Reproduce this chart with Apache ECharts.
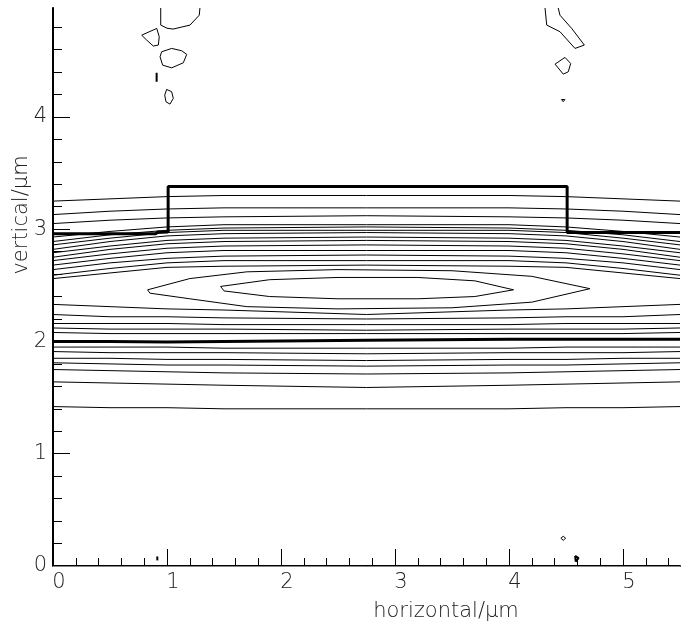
<!DOCTYPE html>
<html>
<head>
<meta charset="utf-8">
<script src="https://cdn.jsdelivr.net/npm/echarts@6/dist/echarts.min.js"></script>
<style>
html, body { margin: 0; padding: 0; background: #fff; }
#main { width: 688px; height: 628px; }
</style>
</head>
<body>
<div id="main"></div>
<script>
// x positions where each horizontal contour is sampled
var xs = [0, 0.5, 1, 1.5, 2.75, 4, 4.5, 5, 5.5];

// contours above the mode centre
var upperLines = [
	[3.25, 3.27, 3.29, 3.30, 3.30, 3.30, 3.29, 3.27, 3.25],
	[3.13, 3.16, 3.18, 3.19, 3.19, 3.19, 3.18, 3.16, 3.13],
	[3.05, 3.08, 3.10, 3.11, 3.12, 3.11, 3.10, 3.08, 3.05],
	[2.93, 2.98, 3.02, 3.04, 3.04, 3.04, 3.02, 2.98, 2.93],
	[2.89, 2.95, 2.99, 3.01, 3.02, 3.01, 2.99, 2.95, 2.89],
	[2.86, 2.92, 2.97, 2.99, 2.99, 2.99, 2.97, 2.92, 2.86],
	[2.82, 2.89, 2.94, 2.96, 2.97, 2.96, 2.94, 2.89, 2.82],
	[2.79, 2.85, 2.90, 2.92, 2.93, 2.92, 2.90, 2.85, 2.79],
	[2.75, 2.82, 2.87, 2.89, 2.90, 2.89, 2.87, 2.82, 2.75],
	[2.72, 2.78, 2.83, 2.85, 2.86, 2.85, 2.83, 2.78, 2.72],
	[2.68, 2.74, 2.79, 2.81, 2.81, 2.81, 2.79, 2.74, 2.68],
	[2.64, 2.70, 2.74, 2.76, 2.77, 2.76, 2.74, 2.70, 2.64],
	[2.59, 2.65, 2.70, 2.72, 2.72, 2.72, 2.70, 2.65, 2.59],
	[2.56, 2.61, 2.66, 2.67, 2.68, 2.67, 2.66, 2.61, 2.56]
];

// contours below the mode centre
var lowerLines = [
	[2.33, 2.31, 2.29, 2.28, 2.24, 2.28, 2.29, 2.31, 2.33],
	[2.24, 2.22, 2.22, 2.21, 2.20, 2.21, 2.22, 2.22, 2.24],
	[2.16, 2.16, 2.16, 2.15, 2.15, 2.15, 2.16, 2.16, 2.16],
	[2.12, 2.11, 2.11, 2.11, 2.10, 2.11, 2.11, 2.11, 2.12],
	[2.08, 2.07, 2.07, 2.07, 2.07, 2.07, 2.07, 2.07, 2.08],
	[1.95, 1.95, 1.95, 1.94, 1.94, 1.94, 1.95, 1.95, 1.95],
	[1.91, 1.90, 1.90, 1.90, 1.89, 1.90, 1.90, 1.90, 1.91],
	[1.85, 1.85, 1.84, 1.84, 1.83, 1.84, 1.84, 1.85, 1.85],
	[1.81, 1.80, 1.79, 1.79, 1.78, 1.79, 1.79, 1.80, 1.81],
	[1.75, 1.74, 1.73, 1.72, 1.71, 1.72, 1.73, 1.74, 1.75],
	[1.64, 1.63, 1.62, 1.61, 1.59, 1.61, 1.62, 1.63, 1.64],
	[1.42, 1.41, 1.41, 1.40, 1.40, 1.40, 1.41, 1.41, 1.42]
];

// substrate interface (thick)
var interfaceLine = [2.00, 2.00, 1.995, 2.00, 2.01, 2.02, 2.02, 2.02, 2.02];

// rib waveguide outline (thick)
var ribOutline = [[0, 2.96], [0.9, 2.96], [0.92, 2.975], [1.01, 2.975], [1.01, 3.38], [4.51, 3.38], [4.51, 2.97], [5.5, 2.97]];

// closed contours round the mode maximum
var outerLoop = [[0.83, 2.46], [1.2, 2.56], [1.7, 2.62], [2.5, 2.64], [3.5, 2.63], [4.2, 2.58], [4.71, 2.47],
	[4.2, 2.35], [3.5, 2.30], [2.5, 2.29], [1.7, 2.31], [1.2, 2.38], [0.85, 2.43], [0.83, 2.46]];
var innerLoop = [[1.47, 2.49], [1.9, 2.55], [2.5, 2.57], [3.2, 2.57], [3.7, 2.54], [4.04, 2.46],
	[3.7, 2.40], [3.2, 2.38], [2.5, 2.38], [1.9, 2.40], [1.5, 2.45], [1.47, 2.49]];

// small noise contours
var islands = [
	[[0.945, 4.97], [0.945, 4.818], [1.00, 4.79], [1.053, 4.782], [1.202, 4.818], [1.283, 4.906], [1.289, 4.97]],
	[[0.778, 4.728], [0.910, 4.788], [0.932, 4.714], [0.924, 4.640], [0.880, 4.631], [0.822, 4.684], [0.778, 4.728]],
	[[0.953, 4.580], [1.041, 4.610], [1.129, 4.589], [1.173, 4.557], [1.143, 4.482], [1.041, 4.437], [0.962, 4.461], [0.939, 4.535], [0.953, 4.580]],
	[[0.997, 4.245], [1.041, 4.224], [1.055, 4.165], [1.026, 4.114], [0.991, 4.135], [0.980, 4.194], [0.997, 4.245]],
	[[4.316, 4.97], [4.331, 4.818], [4.447, 4.759], [4.579, 4.610], [4.661, 4.640], [4.550, 4.788], [4.447, 4.906], [4.432, 4.97]],
	[[4.404, 4.470], [4.491, 4.530], [4.541, 4.476], [4.520, 4.402], [4.476, 4.381], [4.404, 4.470]],
	[[4.46, 4.155], [4.476, 4.165], [4.49, 4.155], [4.476, 4.135], [4.46, 4.155]],
	[[4.455, 0.247], [4.476, 0.265], [4.497, 0.247], [4.476, 0.229], [4.455, 0.247]]
];
var boldSpecks = [
	[[0.909, 4.393], [0.909, 4.313]],
	[[4.58, 0.09], [4.61, 0.07], [4.585, 0.04], [4.58, 0.09]],
	[[0.915, 0.05], [0.915, 0.085]]
];

var xTicks = [0, 1, 2, 3, 4, 5];
var yTicks = [0, 1, 2, 3, 4];

var labelFont = 'DejaVu Sans';
var labelColor = '#222';

function sampled(ys) {
	var pts = [];
	for (var i = 0; i < xs.length; ++i) {
		pts.push([xs[i], ys[i]]);
	}
	return pts;
}

function lineSeries(data, width) {
	return {
		type: 'line',
		data: data,
		symbol: 'none',
		silent: true,
		animation: false,
		lineStyle: { color: '#000', width: width }
	};
}

var series = [];
upperLines.concat(lowerLines).forEach(function(ys) {
	series.push(lineSeries(sampled(ys), 1));
});
series.push(lineSeries(outerLoop, 1));
series.push(lineSeries(innerLoop, 1));
islands.forEach(function(pts) {
	series.push(lineSeries(pts, 1));
});
boldSpecks.forEach(function(pts) {
	series.push(lineSeries(pts, 2));
});
series.push(lineSeries(sampled(interfaceLine), 3));
series.push(lineSeries(ribOutline, 3));

var myChart = echarts.init(document.getElementById('main'));

var option = {
	animation: false,
	grid: { left: 53, right: 8, top: 8, bottom: 62 },
	xAxis: [{
		type: 'value',
		min: 0,
		max: 5.5,
		interval: 1,
		axisLine: { lineStyle: { color: '#000', width: 2 } },
		axisTick: { inside: true, length: 17, customValues: [1, 2, 3, 4, 5], lineStyle: { color: '#000' } },
		minorTick: { show: true, splitNumber: 5, length: 8, lineStyle: { color: '#000' } },
		axisLabel: {
			customValues: xTicks,
			margin: 6,
			padding: [0, 0, 0, 12],
			color: labelColor,
			fontSize: 21,
			fontWeight: 200,
			fontFamily: labelFont
		},
		splitLine: { show: false }
	}, {
		type: 'value',
		position: 'top',
		min: 0,
		max: 5.5,
		axisLine: { show: true, lineStyle: { color: '#888', width: 1 } },
		axisTick: { show: false },
		axisLabel: { show: false },
		splitLine: { show: false }
	}],
	yAxis: [{
		type: 'value',
		min: 0,
		max: 4.97,
		interval: 1,
		axisLine: { show: true, lineStyle: { color: '#000', width: 1 } },
		axisTick: { show: true, inside: true, length: 17, customValues: [1, 2, 3, 4], lineStyle: { color: '#000' } },
		minorTick: { show: true, splitNumber: 5, length: 9, lineStyle: { color: '#000' } },
		axisLabel: {
			customValues: yTicks,
			margin: 6,
			color: labelColor,
			fontSize: 21,
			fontWeight: 200,
			fontFamily: labelFont
		},
		splitLine: { show: false }
	}, {
		type: 'value',
		position: 'right',
		min: 0,
		max: 4.97,
		axisLine: { show: true, lineStyle: { color: '#000', width: 2 } },
		axisTick: { show: false },
		axisLabel: { show: false },
		splitLine: { show: false }
	}],
	graphic: [{
		type: 'text',
		x: 22,
		y: 215,
		rotation: Math.PI / 2,
		style: {
			text: 'vertical/μm',
			font: '200 21px "DejaVu Sans"',
			fill: labelColor,
			align: 'center',
			verticalAlign: 'middle'
		}
	}, {
		type: 'text',
		x: 446,
		y: 612,
		style: {
			text: 'horizontal/μm',
			font: '200 21px "DejaVu Sans"',
			fill: labelColor,
			align: 'center',
			verticalAlign: 'middle'
		}
	}],
	series: series
};

myChart.setOption(option);
</script>
</body>
</html>
